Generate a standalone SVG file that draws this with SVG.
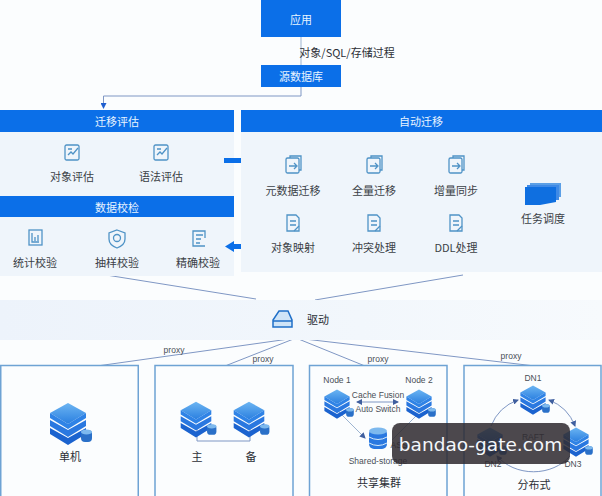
<svg xmlns="http://www.w3.org/2000/svg" width="602" height="496" viewBox="0 0 602 496">
<style>
text{font-family:"Noto Sans CJK SC","Liberation Sans",sans-serif;text-anchor:middle;fill:#3b3f46;font-size:11px}
.h{fill:#e8f4ff;font-size:11px}
.bar{fill:#0b6fe8}
.panel{fill:#eff5fb}
.box{fill:#fbfdfe;stroke:#6ea3d4;stroke-width:1.5}
.ln{fill:none;stroke:#7f97c4;stroke-width:1}
.ic{fill:none;stroke:#4f93c6;stroke-width:1.3}
.sm{font-size:8.5px;font-family:"Liberation Sans",sans-serif;fill:#4a4f57}
.fine{fill:none;stroke:#9db4d0;stroke-width:1}
</style>
<defs>
<linearGradient id="tg" x1="0" y1="0" x2="0" y2="1"><stop offset="0" stop-color="#6cb5f2"/><stop offset="1" stop-color="#2a7fe0"/></linearGradient>
<linearGradient id="band" x1="0" y1="0" x2="1" y2="0"><stop offset="0" stop-color="#edf3fb"/><stop offset=".6" stop-color="#f2f7fc"/><stop offset="1" stop-color="#f7fafd"/></linearGradient>
<marker id="a" markerWidth="6" markerHeight="6" refX="5" refY="3" orient="auto"><path d="M0 0L6 3L0 6z" fill="#1f5fd0"/></marker>
<marker id="b" markerWidth="6" markerHeight="6" refX="5" refY="3" orient="auto-start-reverse"><path d="M0 0L6 3L0 6z" fill="#3f5f9f"/></marker>
<g id="stack">
<path d="M-18 7L0 17L18 7V13L0 24L-18 13z" fill="#1b63cf"/>
<path d="M-18 -1L0 9L18 -1V5L0 16L-18 5z" fill="#2a78e0"/>
<path d="M-18 -8L0 -18L18 -8L0 3z" fill="url(#tg)"/>
<path d="M-18 -8V-3L0 8L18 -3V-8L0 3z" fill="#2f83e6"/>
<rect x="13" y="9" width="11" height="12" rx="4" fill="#2a70c8"/><ellipse cx="18.500" cy="11" rx="5.500" ry="2.500" fill="#7db9ee"/>
</g>
<g id="doc"><rect x="-7" y="-8" width="13" height="15" rx="1.500" class="ic"/><path class="ic" d="M-3 -8V-10H8V4H6M-4 0H3M1 -3L4 0L1 3"/></g>
<g id="sql"><path class="ic" d="M-6 -8H3L6 -5V8H-6z"/><path class="ic" d="M-3 -2H3M-3 2H3M1 8L6 3"/></g>
<g id="edit"><rect x="-7" y="-7" width="14" height="15" rx="1.500" class="ic"/><path class="ic" d="M-4 3L-1 0L1 2L6 -4M-4 -3H0"/></g>
</defs>
<rect width="602" height="496" fill="#fbfdfe"/>
<g id="connectors">
<path class="fine" d="M301 37V65"/>
<path class="ln" d="M301 87V96H103.500V108" stroke="#a9b9ea" marker-end="url(#a)"/>
<path class="ln" d="M100 274L256 299M315 300L463 275"/>
<path class="ln" d="M296 338L97 366M296 338L225 366M296 338L365 366M296 338L535 366"/>
</g>
<g id="app"><rect class="bar" x="261" y="0" width="80" height="37"/><text class="h" x="301" y="24" font-size="12">应用</text></g>
<text x="347" y="57" style="fill:#2b2f36">对象/SQL/存储过程</text>
<g id="source-db"><rect class="bar" x="261" y="65" width="80" height="22"/><text class="h" x="301" y="81">源数据库</text></g>
<g id="assess">
<rect class="panel" x="0" y="132" width="234" height="144"/>
<rect class="bar" x="0" y="110" width="234" height="22"/><text class="h" x="117" y="126">迁移评估</text>
<use href="#edit" x="72" y="152"/><text x="72" y="181">对象评估</text>
<use href="#edit" x="161" y="152"/><text x="161" y="181">语法评估</text>
</g>
<g id="verify">
<rect class="bar" x="0" y="196" width="234" height="21"/><text class="h" x="117" y="212">数据校检</text>
<g class="ic"><rect x="29" y="230" width="13" height="15"/><path d="M32 233V242H39M35 241V237M38 241V235"/></g><text x="35" y="267">统计校验</text>
<path class="ic" d="M117 230L125 233V239Q125 245 117 248Q109 245 109 239V233z"/><circle class="ic" cx="117" cy="238" r="3.500"/><text x="117" y="267">抽样校验</text>
<path class="ic" d="M205 246H193V231H205V238M196 235H203M196 239H201M196 243H200"/><text x="198" y="267">精确校验</text>
</g>
<path id="arrow-right" d="M224 158H241V155L250 160.500L241 166V163H224z" fill="#0b6fe8"/>
<path id="arrow-left" d="M251 244H234V241L225 246.500L234 252V249H251z" fill="#0b6fe8"/>
<g id="auto">
<rect class="panel" x="241" y="132" width="361" height="140"/>
<rect class="bar" x="241" y="110" width="361" height="22"/><text class="h" x="421" y="126">自动迁移</text>
<use href="#doc" x="293" y="166"/><text x="293" y="195">元数据迁移</text>
<use href="#doc" x="374" y="166"/><text x="374" y="195">全量迁移</text>
<use href="#doc" x="456" y="166"/><text x="456" y="195">增量同步</text>
<use href="#sql" x="293" y="223"/><text x="293" y="252">对象映射</text>
<use href="#sql" x="374" y="223"/><text x="374" y="252">冲突处理</text>
<use href="#sql" x="456" y="223"/><text x="456" y="252">DDL处理</text>
<path d="M530 183H561V197H530z" fill="#5b9fe6"/><path d="M527 185H559V200H527z" fill="#3f8ae6"/><path d="M525 187H556V202L540 205H525z" fill="#0f6fe0"/>
<text x="543" y="223">任务调度</text>
</g>
<g id="driver">
<rect x="0" y="300" width="602" height="40" fill="url(#band)"/>
<path d="M279 311H288L292 320V327H273V320z" fill="#cfe4f7" stroke="#1f6fc8" stroke-width="1.500"/><path d="M273 321H292" stroke="#1f6fc8" stroke-width="1.500"/>
<text x="318" y="324" style="fill:#2b2f36">驱动</text>
</g>
<g id="single"><rect class="box" x="0.750" y="365.500" width="137.500" height="135"/><use href="#stack" transform="translate(68 421) scale(1)"/><text x="70" y="461" style="fill:#2b2f36">单机</text></g>
<g id="primary"><rect class="box" x="155" y="365.500" width="138" height="135"/>
<path class="ln" d="M197 428V441H250V428" stroke="#8aa5c5"/>
<use href="#stack" transform="translate(196 417) scale(.85)"/><use href="#stack" transform="translate(249 417) scale(.85)"/>
<text x="197" y="461" style="fill:#2b2f36">主</text><text x="251" y="461" style="fill:#2b2f36">备</text></g>
<g id="shared"><rect class="box" x="309.500" y="365.500" width="137.500" height="135"/>
<path class="fine" d="M337 410L365 438" marker-end="url(#b)"/><path class="fine" d="M418 414L392 440"/>
<path d="M357 402H398" class="ln" stroke="#3f5f9f" marker-start="url(#b)" marker-end="url(#b)"/>
<use href="#stack" transform="translate(337 402) scale(.7)"/><use href="#stack" transform="translate(419 402) scale(.7)"/>
<rect x="369" y="429" width="18" height="20" rx="5" fill="#2a78e0"/><ellipse cx="378" cy="431" rx="9" ry="3.500" fill="#7db9ee"/><path d="M369 437Q378 442 387 437M369 443Q378 448 387 443" stroke="#d8ecfb" fill="none"/>
<text class="sm" x="337" y="383">Node 1</text><text class="sm" x="419" y="383">Node 2</text>
<text class="sm" x="378" y="398">Cache Fusion</text><text class="sm" x="378" y="412">Auto Switch</text>
<text class="sm" x="399" y="448">ASS</text><text class="sm" x="378" y="464">Shared-storage</text>
<text x="379" y="487" style="fill:#2b2f36">共享集群</text></g>
<g id="distributed"><rect class="box" x="464" y="365.500" width="137" height="135"/>
<path class="ln" d="M518 400A45 45 0 0 0 491 426" stroke="#3f5f9f" marker-start="url(#b)"/><path class="ln" d="M549 400A45 45 0 0 1 575 426" stroke="#3f5f9f" marker-start="url(#b)" marker-end="url(#b)"/><path class="ln" d="M570 456A45 38 0 0 1 497 456" stroke="#3f5f9f" marker-end="url(#b)"/>
<use href="#stack" transform="translate(533 398) scale(.7)"/><use href="#stack" transform="translate(490 440) scale(.7)"/><use href="#stack" transform="translate(576 440) scale(.7)"/>
<text class="sm" x="533" y="381">DN1</text><text class="sm" x="493" y="467">DN2</text><text class="sm" x="573" y="467">DN3</text><text class="sm" x="533" y="440">RAFT</text>
<text x="534" y="489" style="fill:#2b2f36">分布式</text></g>
<g id="edge-labels"><text class="sm" x="174" y="353">proxy</text><text class="sm" x="263" y="362">proxy</text><text class="sm" x="378" y="362">proxy</text><text class="sm" x="511" y="359">proxy</text></g>
<g id="watermark"><rect x="392" y="423" width="178" height="41" rx="8" fill="#2e2a30" fill-opacity=".86"/><text x="480.500" y="451" style="font-family:'DejaVu Sans',sans-serif;font-size:18.500px;fill:#f4f7fb">bandao-gate.com</text></g>
</svg>
